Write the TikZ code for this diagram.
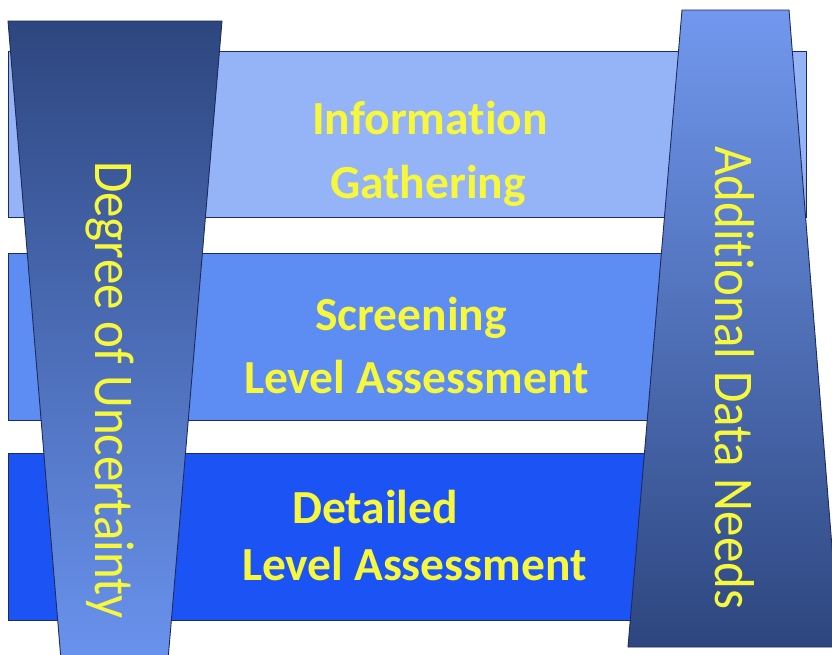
\documentclass[tikz,border=0pt]{standalone}
\usepackage{fontspec}
\setmainfont[RawFeature={-liga}]{Carlito}
\definecolor{bandA}{HTML}{95B3F7}
\definecolor{bandB}{HTML}{5D8CF2}
\definecolor{bandC}{HTML}{1C53F4}
\definecolor{edgeline}{HTML}{1E2B5C}
\definecolor{darkblue}{HTML}{2D467F}
\definecolor{lightblue}{HTML}{6A93EE}
\definecolor{txtyellow}{HTML}{F7F73C}
\begin{document}
\begin{tikzpicture}[x=1pt,y=-1pt,
  band/.style={draw=edgeline,line width=1pt},
  trap/.style={draw=edgeline,line width=0.9pt},
  lbl/.style={text=txtyellow,font=\bfseries\fontsize{47.5}{57}\selectfont,anchor=base west,inner sep=0pt},
  vlbl/.style={text=txtyellow,font=\fontsize{51}{60}\selectfont,rotate=-90,anchor=base west,inner sep=0pt}]
\useasboundingbox (0,0) rectangle (832,654);
\clip (0,0) rectangle (832,654);
\fill[white] (0,0) rectangle (832,654);
% bands
\fill[bandA,band] (8,51) rectangle (806,217);
\fill[bandB,band] (8,253) rectangle (806,420);
\fill[bandC,band] (8,453) rectangle (806,620);
% left trapezoid
\shadedraw[trap,top color=darkblue,bottom color=lightblue]
  (8,21) -- (222,21) -- (168,660) -- (61,660) -- cycle;
% right trapezoid
\shadedraw[trap,top color=lightblue!95!white,bottom color=darkblue]
  (682,10) -- (789,10) -- (840,647) -- (628,647) -- cycle;
% band labels
\node[lbl] (t1a) at (312,134) {Information};
\node[lbl] (t1b) at (330,198) {Gathering};
\node[lbl] (t2a) at (315,330) {Screening};
\node[lbl] (t2b) at (244,393) {Level Assessment};
\node[lbl] (t3a) at (292,523) {Detailed};
\node[lbl] (t3b) at (242,580) {Level Assessment};
% vertical labels
\node[vlbl] (vl) at (95,161) {\scalebox{1}[1.1]{Degree of Uncertainty}};
\node[vlbl] (vr) at (715,146) {\scalebox{1}[1.1]{Additional Data Needs}};
\end{tikzpicture}
\end{document}
